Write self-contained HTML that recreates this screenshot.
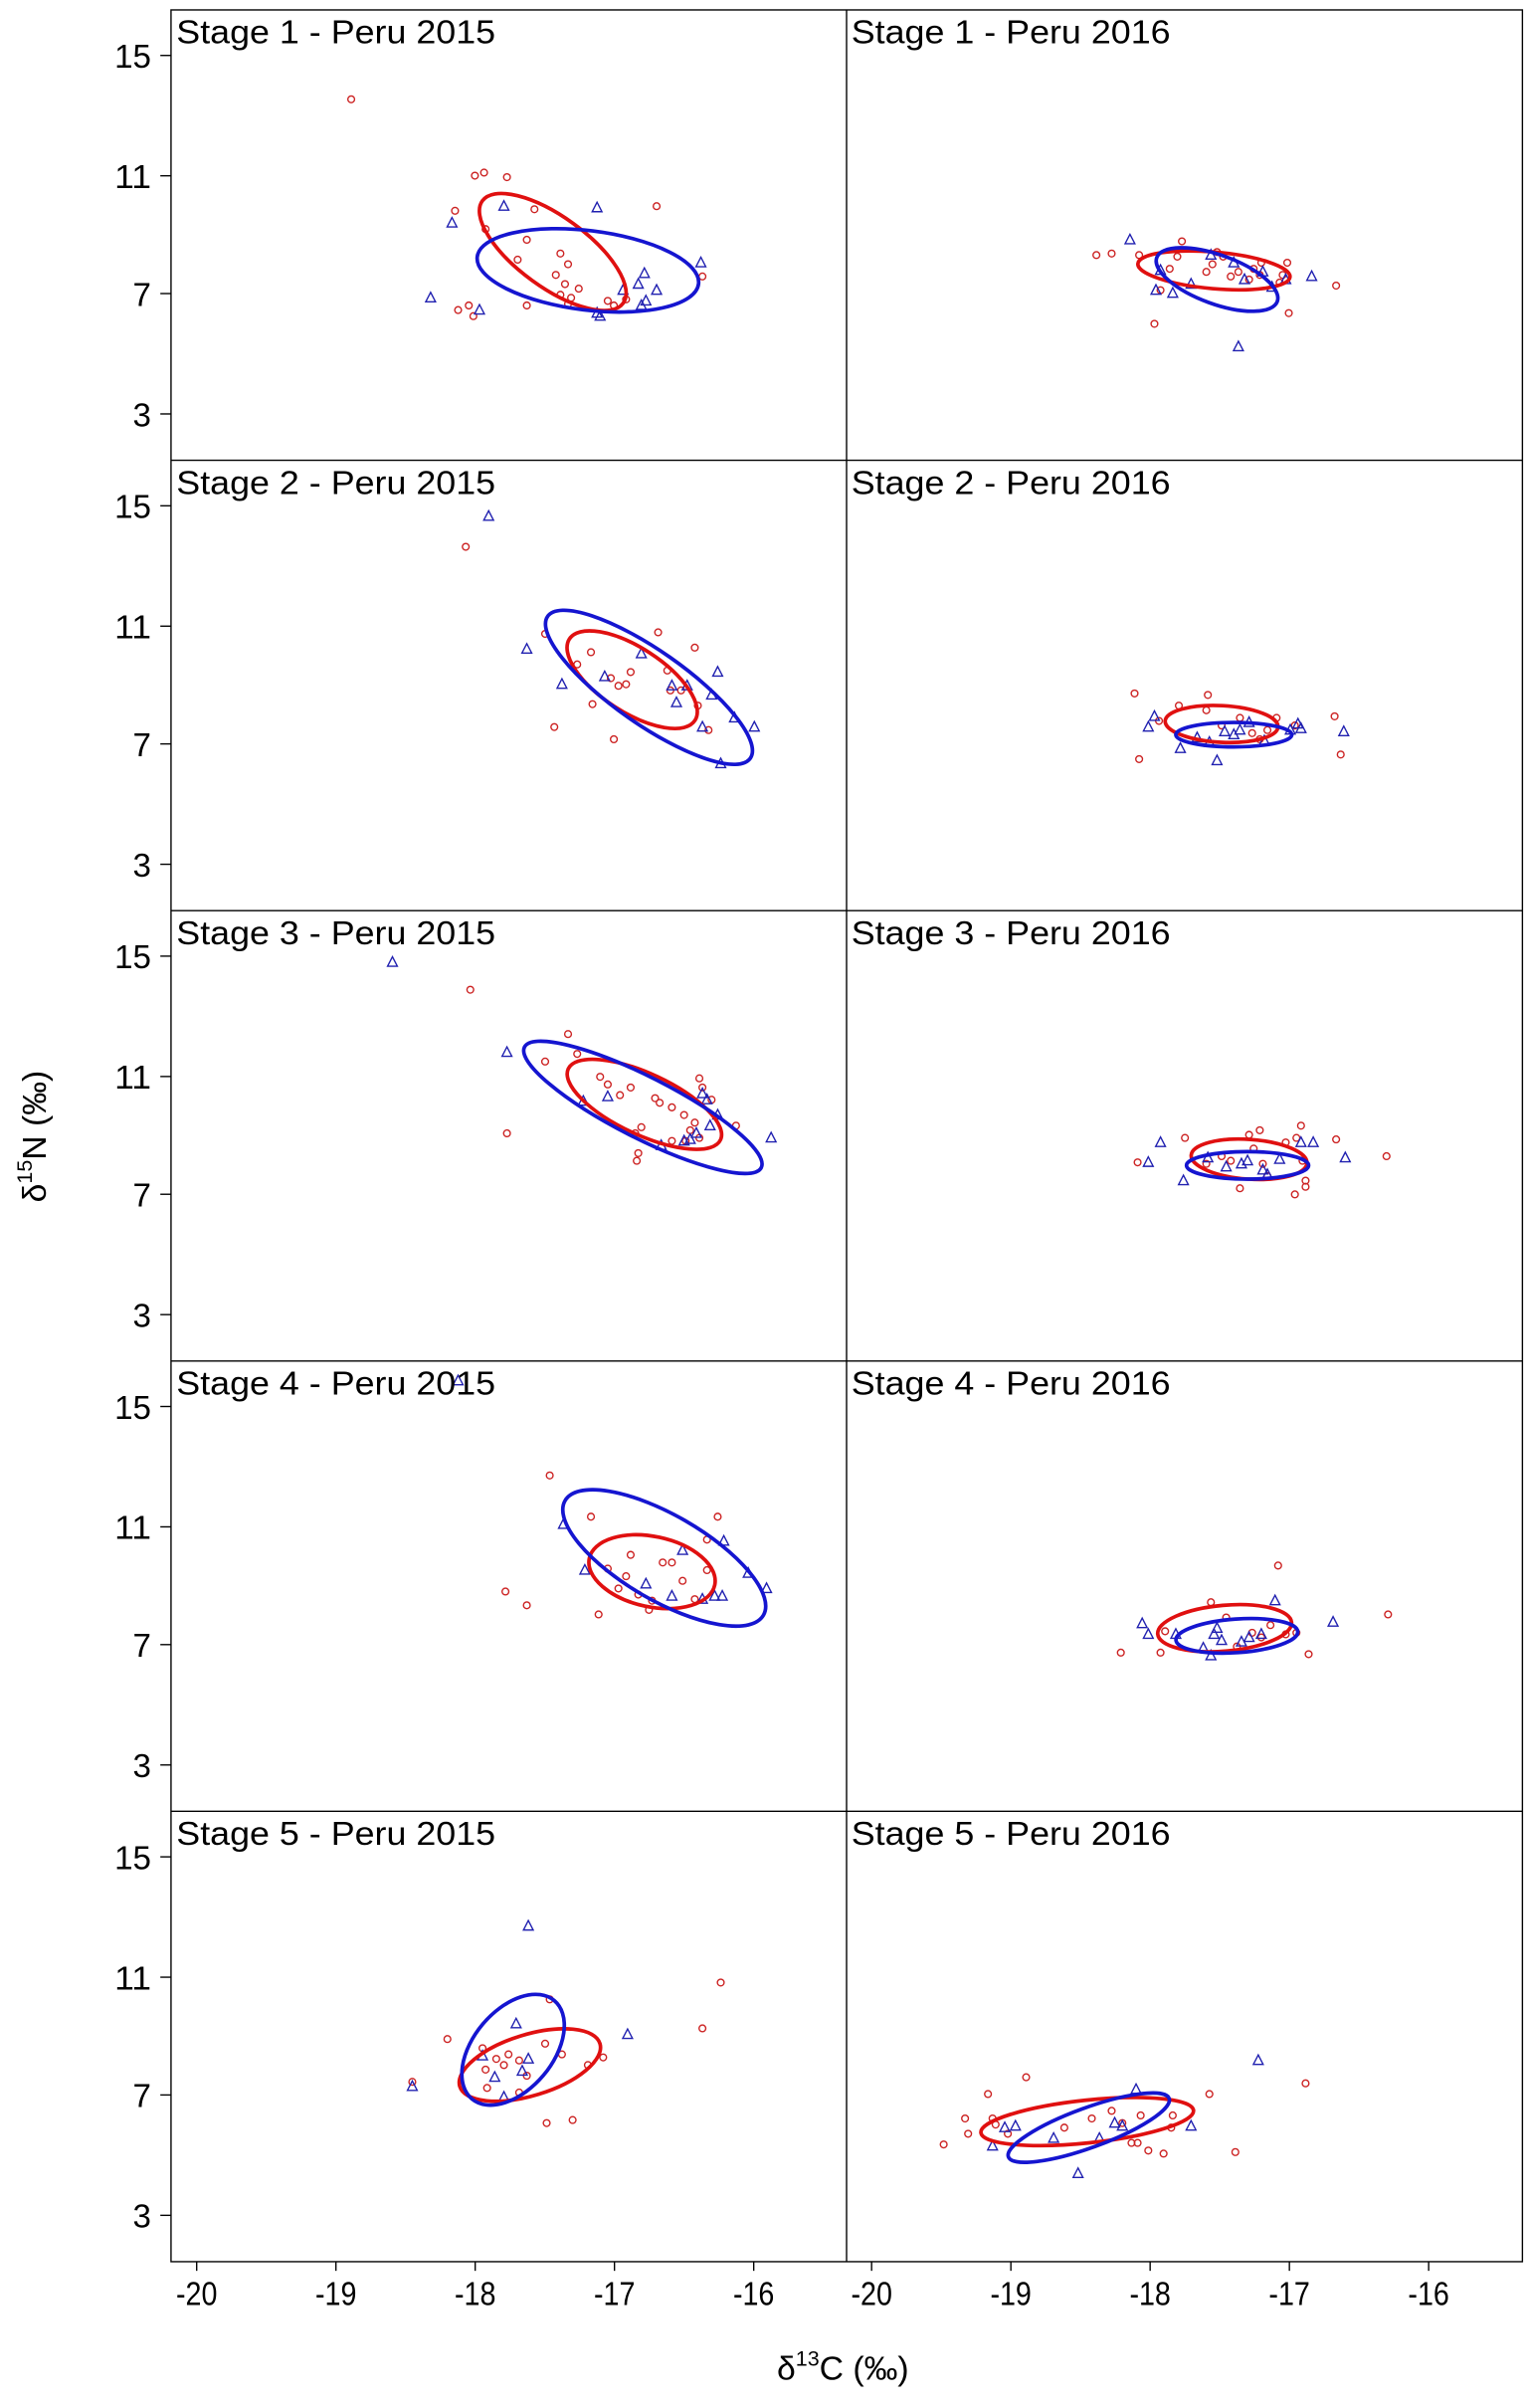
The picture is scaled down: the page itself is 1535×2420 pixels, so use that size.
<!DOCTYPE html>
<html><head><meta charset="utf-8">
<style>html,body{margin:0;padding:0;background:#fff}svg{display:block}text{font-family:"Liberation Sans",Arial,sans-serif;fill:#000}</style>
</head><body>
<svg id="s" xmlns="http://www.w3.org/2000/svg" width="1535" height="2420" viewBox="0 0 1000 1576.55">
<rect x="0" y="0" width="1000" height="1576.55" fill="#fff"/>
<g id="frames" fill="none" stroke="#000" stroke-width="0.9"></g>
<g id="marks"></g>
<g id="labels"></g>
<text x="30" y="744" font-size="22" text-anchor="middle" transform="rotate(-90 30 744)">δ<tspan font-size="14" dy="-9">15</tspan><tspan dy="9">N (‰)</tspan></text>
<text x="552" y="1558" font-size="22" text-anchor="middle">δ<tspan font-size="14" dy="-9">13</tspan><tspan dy="9">C (‰)</tspan></text>
</svg>
<script>
var NS="http://www.w3.org/2000/svg";
function el(p,t,a,txt){var e=document.createElementNS(NS,t);for(var k in a)e.setAttribute(k,a[k]);if(txt!==undefined)e.textContent=txt;p.appendChild(e);return e;}
var F=document.getElementById('frames'),M=document.getElementById('marks'),L=document.getElementById('labels');
var L0=112,MID=554.4,R=997,T=6.5,RH=294.85,B=T+5*RH;
el(F,'rect',{x:L0,y:T,width:R-L0,height:B-T});
el(F,'line',{x1:MID,y1:T,x2:MID,y2:B});
for(var r=1;r<5;r++)el(F,'line',{x1:L0,y1:T+r*RH,x2:R,y2:T+r*RH});
var yt=[[15,36.3],[11,115.1],[7,192.2],[3,271]];
var titles=["Stage 1","Stage 2","Stage 3","Stage 4","Stage 5"];
for(r=0;r<5;r++){
 yt.forEach(function(t){var y=t[1]+r*RH;el(F,'line',{x1:L0-7,y1:y,x2:L0,y2:y});el(L,'text',{x:99,y:y+8,'font-size':22,'text-anchor':'end',textLength:t[0]>9?24:12,lengthAdjust:'spacingAndGlyphs'},String(t[0]));});
 el(L,'text',{x:115.5,y:T+22+r*RH,'font-size':21.5,textLength:209,lengthAdjust:'spacingAndGlyphs'},titles[r]+" - Peru 2015");
 el(L,'text',{x:557.5,y:T+22+r*RH,'font-size':21.5,textLength:209,lengthAdjust:'spacingAndGlyphs'},titles[r]+" - Peru 2016");
}
[128.8,570.8].forEach(function(x0){for(var i=0;i<5;i++){var x=x0+i*91.2;el(F,'line',{x1:x,y1:B,x2:x,y2:B+6});el(L,'text',{x:x,y:1509,'font-size':22,'text-anchor':'middle',textLength:27,lengthAdjust:'spacingAndGlyphs'},String(-20+i));}});
var RED="#e01010",BLUE="#1515d0";
function ell(c,cx,cy,rx,ry,a){el(M,'ellipse',{cx:cx,cy:cy,rx:rx,ry:ry,transform:'rotate('+a+' '+cx+' '+cy+')',fill:'none',stroke:c,'stroke-width':2.4});}
function circ(pts,off){pts.forEach(function(p){el(M,'circle',{cx:p[0],cy:p[1]+off,r:2.2,fill:'none',stroke:'#cc2222','stroke-width':0.9});});}
function tri(pts,off){pts.forEach(function(p){var x=p[0],y=p[1]+off;el(M,'polygon',{points:(x)+','+(y-3.6)+' '+(x-3.2)+','+(y+2.6)+' '+(x+3.2)+','+(y+2.6),fill:'none',stroke:'#2020b0','stroke-width':0.9});});}
// Row 0
circ([[230,65],[311,115],[317,113],[332,116],[298,138],[350,137],[430,135],[318,150],[345,157],[339,170],[367,166],[364,180],[372,173],[370,186],[379,189],[367,193],[374,195],[345,200],[398,197],[372,199],[402,200],[460,181],[410,196],[307,200],[310,207],[300,203]],0);
tri([[296,146],[330,135],[391,136],[459,172],[282,195],[314,203],[391,205],[393,207],[418,186],[422,179],[408,190],[420,200],[423,197],[430,190]],0);
ell(RED,362,165,57,23,36);ell(BLUE,385,177,73,26,7);
circ([[718,167],[728,166],[746,167],[774,158],[771,168],[790,178],[794,173],[801,168],[806,181],[811,178],[818,183],[821,176],[825,180],[826,172],[838,185],[840,180],[843,172],[844,205],[875,187],[756,212],[760,190],[766,176],[797,165]],0);
tri([[740,157],[760,177],[768,192],[780,186],[793,167],[808,172],[815,183],[827,178],[833,188],[842,183],[859,181],[811,227],[757,190]],0);
ell(RED,795,177,50,12,5);ell(BLUE,797,183,42,16,20);
// Row 1
circ([[305,358],[357,415],[387,427],[378,435],[400,444],[405,449],[413,440],[410,448],[431,414],[437,439],[455,424],[439,452],[446,452],[457,462],[464,478],[363,476],[402,484],[388,461]],0);
tri([[320,338],[345,425],[368,448],[396,443],[420,428],[440,449],[450,449],[466,455],[470,440],[472,500],[481,470],[494,476],[460,476],[443,460]],0);
ell(RED,414,445,49,21,33);ell(BLUE,425,450,81,24,35);
circ([[743,454],[746,497],[772,462],[790,465],[791,455],[800,475],[812,470],[820,480],[825,484],[830,478],[836,470],[848,475],[874,469],[878,494],[759,472]],0);
tri([[752,476],[756,469],[773,490],[784,483],[792,486],[797,498],[802,479],[808,481],[812,478],[818,473],[828,485],[845,478],[850,474],[880,479],[852,477]],0);
ell(RED,800,474,37,12,3);ell(BLUE,808,481,38,8,0);
// Row 2
circ([[308,648],[372,677],[378,690],[357,695],[393,705],[398,710],[406,717],[413,712],[420,738],[416,742],[429,719],[432,722],[440,725],[448,730],[452,740],[455,735],[458,706],[460,712],[449,747],[458,745],[466,720],[482,737],[332,742],[418,755],[417,760],[440,747]],0);
tri([[257,630],[332,689],[382,721],[398,718],[433,750],[452,746],[456,742],[460,716],[463,720],[465,737],[470,730],[505,745],[448,747]],0);
ell(RED,422,723,55,20,25);ell(BLUE,421,725,87,20,27);
circ([[745,761],[776,745],[790,762],[800,757],[806,760],[818,743],[821,752],[825,740],[827,762],[830,770],[842,748],[849,745],[852,737],[853,760],[855,773],[855,777],[848,782],[875,746],[908,757],[812,778]],0);
tri([[752,761],[760,748],[775,773],[791,758],[803,764],[813,762],[817,760],[827,766],[830,769],[838,759],[852,748],[860,748],[881,758]],0);
ell(RED,818,759,38,13,4);ell(BLUE,817,763,40,9,0);
// Row 3
circ([[360,966],[331,1042],[345,1051],[387,993],[398,1027],[405,1040],[410,1032],[418,1044],[427,1048],[434,1023],[440,1023],[447,1035],[455,1047],[463,1028],[463,1008],[470,993],[413,1018],[425,1054],[392,1057]],0);
tri([[300,904],[369,998],[383,1028],[423,1037],[440,1045],[447,1015],[460,1047],[468,1045],[473,1045],[490,1030],[502,1040],[474,1009]],0);
ell(RED,427,1029,42,23,12);ell(BLUE,435,1020,75,28,30);
circ([[734,1082],[760,1082],[763,1068],[793,1049],[803,1059],[820,1069],[826,1072],[832,1064],[837,1025],[842,1070],[849,1069],[857,1083],[909,1057],[810,1078]],0);
tri([[748,1063],[752,1070],[770,1070],[788,1079],[793,1084],[795,1070],[797,1066],[813,1075],[818,1072],[826,1070],[835,1048],[873,1062],[800,1074]],0);
ell(RED,802,1066,44,15,-5);ell(BLUE,810,1071,40,11,-4);
// Row 4
circ([[293,1335],[270,1363],[316,1341],[325,1348],[318,1355],[330,1352],[333,1345],[340,1349],[345,1359],[357,1338],[360,1309],[368,1345],[385,1352],[395,1347],[358,1390],[375,1388],[472,1298],[460,1328],[319,1367],[340,1370]],0);
tri([[346,1261],[338,1325],[316,1346],[324,1360],[330,1373],[342,1356],[346,1348],[411,1332],[270,1366]],0);
ell(RED,347,1352,48,20,-17);ell(BLUE,336,1342,42,26,-50);
circ([[618,1404],[632,1387],[634,1397],[647,1371],[650,1387],[652,1391],[660,1397],[672,1360],[697,1393],[715,1387],[728,1382],[735,1390],[741,1403],[747,1385],[752,1408],[768,1385],[767,1393],[792,1371],[809,1409],[855,1364],[762,1410],[745,1403]],0);
tri([[650,1405],[658,1393],[665,1392],[690,1400],[720,1400],[730,1390],[744,1368],[780,1392],[824,1349],[706,1423],[735,1392]],0);
ell(RED,712,1389,70,14,-6);ell(BLUE,713,1393,56,13,-20);
</script>
</body></html>
